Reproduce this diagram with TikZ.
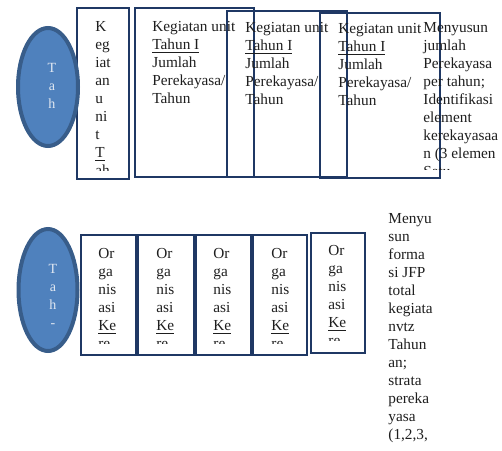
\documentclass[tikz,border=0pt]{standalone}
\usepackage{fontspec}
\setmainfont{Liberation Serif}
\usepackage{xcolor}
\usepackage{tikz}
\usetikzlibrary{shapes.geometric}

\definecolor{boxline}{RGB}{31,56,100}
\definecolor{ovalfill}{RGB}{79,129,189}
\definecolor{ovalline}{RGB}{56,93,138}
\definecolor{ovalink}{RGB}{225,232,242}
\definecolor{textdark}{RGB}{30,30,30}

\begin{document}
\begin{tikzpicture}[
    x=0.5pt, y=-0.5pt,
    unitbox/.style={rectangle, draw=boxline, line width=1pt, anchor=north west, inner sep=0pt},
    yearoval/.style={ellipse, draw=ovalline, line width=2pt, fill=ovalfill, inner sep=0pt},
    bodytext/.style={anchor=north west, align=left, inner sep=0pt, font=\fontsize{7.65}{9}\selectfont, text=textdark},
    ovaltext/.style={anchor=north, align=center, inner sep=0pt, font=\fontsize{7}{9}\selectfont, text=ovalink}
]
\useasboundingbox (0,0) rectangle (502,450);

% Top row boxes
\node [unitbox, minimum width=26pt, minimum height=85.5pt] (keg) at (76,7) {};
\node [unitbox, minimum width=59.5pt, minimum height=84.5pt] (tahunA) at (134,7) {};
\node [unitbox, minimum width=60pt, minimum height=83pt] (tahunB) at (226,10) {};
\node [unitbox, minimum width=60pt, minimum height=82.5pt] (tahunC) at (319,12) {};

% Top row texts
\begin{scope}
\clip (70,0) rectangle (135,170);
\node [bodytext] (kegtext) at (95,21) {K\\eg\\iat\\an\\u\\ni\\t\\\underline{T}\\ah};
\end{scope}
\node [bodytext] (textA) at (152,21) {Kegiatan unit\\\underline{Tahun I}\\Jumlah\\Perekayasa/\\Tahun};
\node [bodytext] (textB) at (245,22) {Kegiatan unit\\\underline{Tahun I}\\Jumlah\\Perekayasa/\\Tahun};
\node [bodytext] (textC) at (338,23) {Kegiatan unit\\\underline{Tahun I}\\Jumlah\\Perekayasa/\\Tahun};
\begin{scope}
\clip (415,0) rectangle (502,169);
\node [bodytext] (susun) at (423,22) {Menyusun\\jumlah\\Perekayasa\\per tahun;\\Identifikasi\\element\\kerekayasaa\\n (3 elemen\\Satu};
\end{scope}

% Top oval
\node [yearoval, minimum width=30pt, minimum height=59pt] (tahTop) at (48,87) {};
\node [ovaltext] (tahTopText) at (52,63) {T\\a\\h};

% Bottom row boxes
\node [unitbox, minimum width=27.5pt, minimum height=60pt] (orgA) at (80,234) {};
\node [unitbox, minimum width=28pt, minimum height=60pt] (orgB) at (137,234) {};
\node [unitbox, minimum width=27.5pt, minimum height=60pt] (orgC) at (195,234) {};
\node [unitbox, minimum width=27pt, minimum height=60pt] (orgD) at (252,234) {};
\node [unitbox, minimum width=27pt, minimum height=60pt] (orgE) at (310,232) {};

% Bottom row texts
\begin{scope}
\clip (75,230) rectangle (370,343);
\foreach \px/\nm in {98/orgAtext, 156/orgBtext, 213/orgCtext, 271/orgDtext}
    \node [bodytext] (\nm) at (\px,248) {Or\\ga\\nis\\asi\\\underline{Ke}\\re};
\end{scope}
\begin{scope}
\clip (305,228) rectangle (370,340);
\node [bodytext] (orgEtext) at (328,245) {Or\\ga\\nis\\asi\\\underline{Ke}\\re};
\end{scope}
\node [bodytext] (formasi) at (388,213) {Menyu\\sun\\forma\\si JFP\\total\\kegiata\\nvtz\\Tahun\\an;\\strata\\pereka\\yasa\\(1,2,3,};

% Bottom oval
\node [yearoval, minimum width=29.5pt, minimum height=61pt] (tahBot) at (48,290) {};
\node [ovaltext] (tahBotText) at (53,264) {T\\a\\h\\-};

\end{tikzpicture}
\end{document}
